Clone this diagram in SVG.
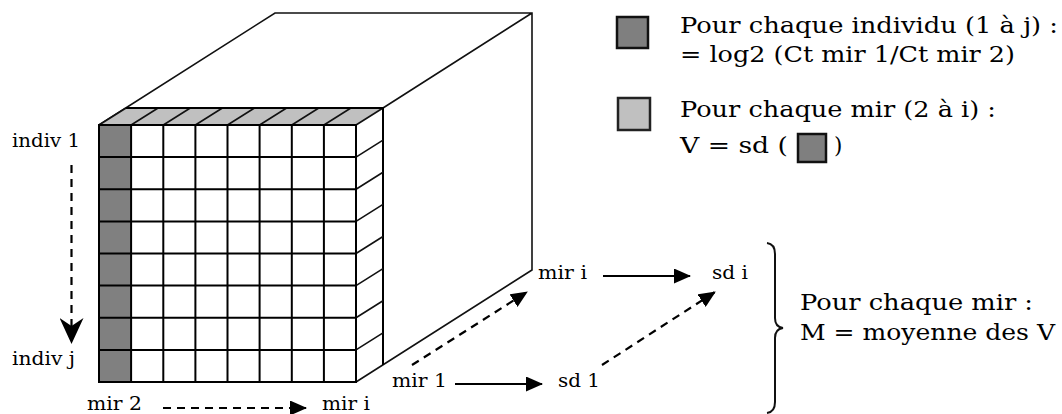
<svg xmlns="http://www.w3.org/2000/svg" width="1062" height="414" viewBox="0 0 1062 414">
<style>
.t{font-family:"DejaVu Serif","Liberation Serif",serif;fill:#000}
.s{font-size:18.5px}
.l{font-size:21.5px}
.g{stroke:#000;stroke-width:2;fill:none}
.d{stroke:#111;stroke-width:1.6;fill:none}
.a{stroke:#000;stroke-width:2.2;fill:none}
.da{stroke:#000;stroke-width:2.2;fill:none;stroke-dasharray:8 6}
</style>
<defs>
<marker id="ah" viewBox="0 0 17 15" refX="16" refY="7.5" markerWidth="17" markerHeight="15" markerUnits="userSpaceOnUse" orient="auto">
<path d="M0,0 L17,7.5 L0,15 Z" fill="#000"/>
</marker>
<marker id="sh" viewBox="0 0 26 24" refX="25" refY="12" markerWidth="26" markerHeight="24" markerUnits="userSpaceOnUse" orient="auto">
<path d="M0,0 L26,12 L0,24 L8,12 Z" fill="#000"/>
</marker>
</defs>
<rect width="1062" height="414" fill="#fff"/>
<g id="cube">
<path class="d" d="M99,125 L275,13 L532,13 L532,270 L356,382 M532,13 L383,108"/>
<polygon points="99,125 356,125 383,108 126,108" fill="#c0c0c0"/>
<path class="d" d="M99,125 L126,108 M131.1,125 L158.1,108 M163.3,125 L190.3,108 M195.4,125 L222.4,108 M227.5,125 L254.5,108 M259.6,125 L286.6,108 M291.8,125 L318.8,108 M323.9,125 L350.9,108 M356,125 L383,108"/>
<path class="g" d="M126,108 L383,108 L383,365"/>
<path class="d" d="M356,157.1 L383,140.1 M356,189.3 L383,172.3 M356,221.4 L383,204.4 M356,253.5 L383,236.5 M356,285.6 L383,268.6 M356,317.8 L383,300.8 M356,349.9 L383,332.9"/>
<rect x="99" y="125" width="32.1" height="257" fill="#808080"/>
<path class="g" d="M99,125 H356 V382 H99 Z M131.1,125 V382 M163.3,125 V382 M195.4,125 V382 M227.5,125 V382 M259.6,125 V382 M291.8,125 V382 M323.9,125 V382 M99,157.1 H356 M99,189.3 H356 M99,221.4 H356 M99,253.5 H356 M99,285.6 H356 M99,317.8 H356 M99,349.9 H356"/>
</g>
<g id="legend-dark">
<rect x="617" y="17" width="31" height="31" fill="#7f7f7f" stroke="#111" stroke-width="2.5"/>
<text class="t l" x="680" y="33" textLength="378" lengthAdjust="spacingAndGlyphs">Pour chaque individu (1 à j) :</text>
<text class="t l" x="680" y="62" textLength="335" lengthAdjust="spacingAndGlyphs">= log2 (Ct mir 1/Ct mir 2)</text>
</g>
<g id="legend-light">
<rect x="618" y="98" width="32" height="32" fill="#c0c0c0" stroke="#222" stroke-width="2.5"/>
<text class="t l" x="680" y="117" textLength="316" lengthAdjust="spacingAndGlyphs">Pour chaque mir (2 à i) :</text>
<text class="t l" x="680" y="153" textLength="108" lengthAdjust="spacingAndGlyphs">V = sd (</text>
<rect x="798" y="134" width="28" height="28" fill="#7f7f7f" stroke="#111" stroke-width="2.5"/>
<text class="t l" x="834" y="153">)</text>
</g>
<g id="labels">
<text class="t s" x="12" y="147" textLength="68" lengthAdjust="spacingAndGlyphs">indiv 1</text>
<text class="t s" x="12" y="365" textLength="63" lengthAdjust="spacingAndGlyphs">indiv j</text>
<text class="t s" x="87" y="410" textLength="55" lengthAdjust="spacingAndGlyphs">mir 2</text>
<text class="t s" x="322" y="410" textLength="48" lengthAdjust="spacingAndGlyphs">mir i</text>
<text class="t s" x="538" y="279" textLength="49" lengthAdjust="spacingAndGlyphs">mir i</text>
<text class="t s" x="712" y="279" textLength="36" lengthAdjust="spacingAndGlyphs">sd i</text>
<text class="t s" x="392" y="387" textLength="55" lengthAdjust="spacingAndGlyphs">mir 1</text>
<text class="t s" x="558" y="387" textLength="42" lengthAdjust="spacingAndGlyphs">sd 1</text>
</g>
<g id="summary">
<path d="M767,243 Q775,244 775,254 L775,318 Q775,327 783,328 Q775,329 775,338 L775,402 Q775,412 767,413" stroke="#111" stroke-width="2" fill="none"/>
<text class="t l" x="800" y="310" textLength="233" lengthAdjust="spacingAndGlyphs">Pour chaque mir :</text>
<text class="t l" x="800" y="340" textLength="255" lengthAdjust="spacingAndGlyphs">M = moyenne des V</text>
</g>
<g id="connectors">
<line class="da" x1="71.5" y1="165" x2="71.5" y2="343" marker-end="url(#sh)"/>
<line class="da" x1="163" y1="408" x2="306" y2="408" marker-end="url(#ah)"/>
<line class="a" x1="603" y1="276" x2="690" y2="276" marker-end="url(#ah)"/>
<line class="a" x1="455" y1="384" x2="542" y2="384" marker-end="url(#ah)"/>
<line class="da" x1="412" y1="365" x2="527" y2="292" marker-end="url(#ah)"/>
<line class="da" x1="602" y1="365" x2="715" y2="292" marker-end="url(#ah)"/>
</g>
</svg>
